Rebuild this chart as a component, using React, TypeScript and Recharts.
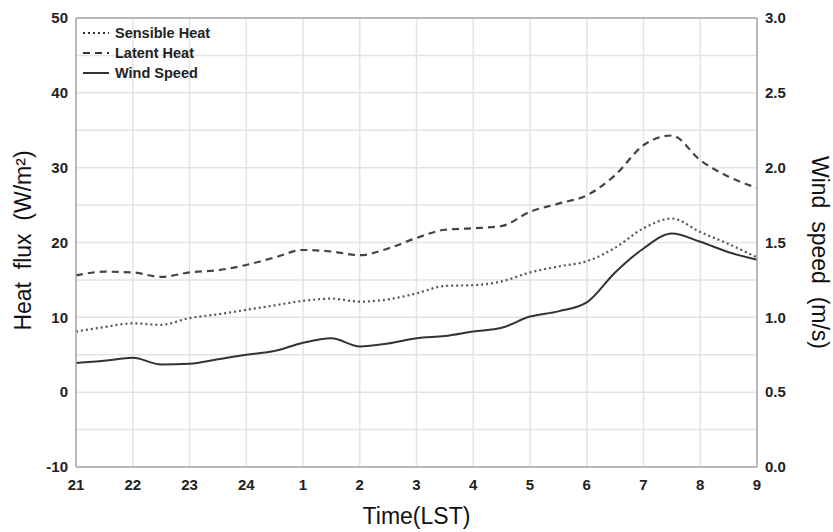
import React from 'react';
import { LineChart, Line, XAxis, YAxis, CartesianGrid, Legend, ReferenceLine } from 'recharts';

// hours since 21 LST
const hours = [0, 0.5, 1, 1.5, 2, 2.5, 3, 3.5, 4, 4.5, 5, 5.5, 6, 6.5, 7, 7.5, 8, 8.5, 9, 9.5, 10, 10.5, 11, 11.5, 12];
const timeLabels = ['21', '22', '23', '24', '1', '2', '3', '4', '5', '6', '7', '8', '9'];
const timeTicks = [0, 1, 2, 3, 4, 5, 6, 7, 8, 9, 10, 11, 12];

const sensibleHeat = [8.1, 8.7, 9.2, 9.0, 9.9, 10.4, 11.0, 11.6, 12.2, 12.5, 12.1, 12.4, 13.2, 14.2, 14.3, 14.8, 16.0, 16.8, 17.5, 19.3, 21.9, 23.2, 21.4, 19.8, 18.0];
const latentHeat = [15.6, 16.1, 16.0, 15.4, 16.0, 16.3, 17.0, 18.0, 19.0, 18.8, 18.3, 19.2, 20.6, 21.7, 21.9, 22.2, 24.1, 25.2, 26.3, 29.0, 33.0, 34.3, 31.0, 28.8, 27.3];
const windSpeed = [0.695, 0.71, 0.73, 0.685, 0.69, 0.72, 0.75, 0.775, 0.83, 0.86, 0.805, 0.825, 0.86, 0.875, 0.905, 0.93, 1.005, 1.04, 1.1, 1.3, 1.46, 1.56, 1.505, 1.435, 1.385];

const heatTicks = [-10, 0, 10, 20, 30, 40, 50];
const heatGrid = [-10, -5, 0, 5, 10, 15, 20, 25, 30, 35, 40, 45, 50];
const windTicks = [0, 0.5, 1.0, 1.5, 2.0, 2.5, 3.0];

const legendItems = [
  { name: 'Sensible Heat', dash: '2 3' },
  { name: 'Latent Heat', dash: '7 5' },
  { name: 'Wind Speed', dash: '' },
];

const data = hours.map((t, i) => ({
  t,
  sensible: sensibleHeat[i],
  latent: latentHeat[i],
  wind: windSpeed[i],
}));

const FONT = '"Liberation Sans", Arial, sans-serif';
const tickStyle = { fontFamily: FONT, fontSize: 15, fontWeight: 700, fill: '#222' };
const frame = '#a8a8a8';

const renderLegend = () => (
  <div style={{ fontFamily: FONT }}>
    {legendItems.map((it) => (
      <div key={it.name} style={{ display: 'flex', alignItems: 'center', height: 20 }}>
        <svg width={26} height={4} style={{ display: 'block' }}>
          <line x1={0} y1={2} x2={26} y2={2} stroke="#333" strokeWidth={2} strokeDasharray={it.dash || undefined} />
        </svg>
        <span style={{ marginLeft: 6, fontSize: 14.5, fontWeight: 700, color: '#222', lineHeight: '20px' }}>{it.name}</span>
      </div>
    ))}
  </div>
);

export default function App() {
  return (
    <div style={{ position: 'absolute', left: 0, top: 0, width: 833, height: 532, background: '#fff' }}>
      <LineChart width={833} height={532} data={data} margin={{ top: 18, right: 0, bottom: 0, left: 0 }}>
        <CartesianGrid
          yAxisId="left"
          stroke="#e3e3e3"
          strokeWidth={1.5}
          horizontalValues={heatGrid}
          verticalValues={timeTicks}
        />
        <XAxis
          dataKey="t"
          type="number"
          domain={[0, 12]}
          ticks={timeTicks}
          tickFormatter={(v: number) => timeLabels[v]}
          interval={0}
          height={65}
          tick={tickStyle}
          tickLine={false}
          tickMargin={6}
          axisLine={{ stroke: frame, strokeWidth: 1.5 }}
          label={{ value: 'Time(LST)', position: 'center', dy: 16, style: { fontFamily: FONT, fontSize: 23, fill: '#111' } }}
        />
        <YAxis
          yAxisId="left"
          domain={[-10, 50]}
          ticks={heatTicks}
          interval={0}
          width={76}
          tick={tickStyle}
          tickLine={false}
          axisLine={{ stroke: frame, strokeWidth: 1.5 }}
          label={{ value: 'Heat\u00a0\u00a0flux\u00a0\u00a0(W/m²)', angle: -90, position: 'center', dx: -15, dy: -2, style: { fontFamily: FONT, fontSize: 23, fill: '#111' } }}
        />
        <YAxis
          yAxisId="right"
          orientation="right"
          domain={[0, 3]}
          ticks={windTicks}
          interval={0}
          width={76}
          tick={tickStyle}
          tickFormatter={(v: number) => v.toFixed(1)}
          tickLine={false}
          axisLine={{ stroke: frame, strokeWidth: 1.5 }}
          label={{ value: 'Wind\u00a0\u00a0speed\u00a0\u00a0(m/s)', angle: 90, position: 'center', dx: 25, dy: 10, style: { fontFamily: FONT, fontSize: 23, fill: '#111' } }}
        />
        <ReferenceLine yAxisId="left" y={50} stroke={frame} strokeWidth={1.5} />
        <Legend
          layout="vertical"
          align="center"
          verticalAlign="middle"
          content={renderLegend}
          wrapperStyle={{ left: 83, top: 23, width: 200, height: 64 }}
        />
        <Line yAxisId="left" dataKey="sensible" name="Sensible Heat" type="monotone" stroke="#555" strokeWidth={2.2} strokeDasharray="2 3" dot={false} isAnimationActive={false} />
        <Line yAxisId="left" dataKey="latent" name="Latent Heat" type="monotone" stroke="#444" strokeWidth={2.2} strokeDasharray="7 5" dot={false} isAnimationActive={false} />
        <Line yAxisId="right" dataKey="wind" name="Wind Speed" type="monotone" stroke="#333" strokeWidth={2} dot={false} isAnimationActive={false} />
      </LineChart>
    </div>
  );
}
